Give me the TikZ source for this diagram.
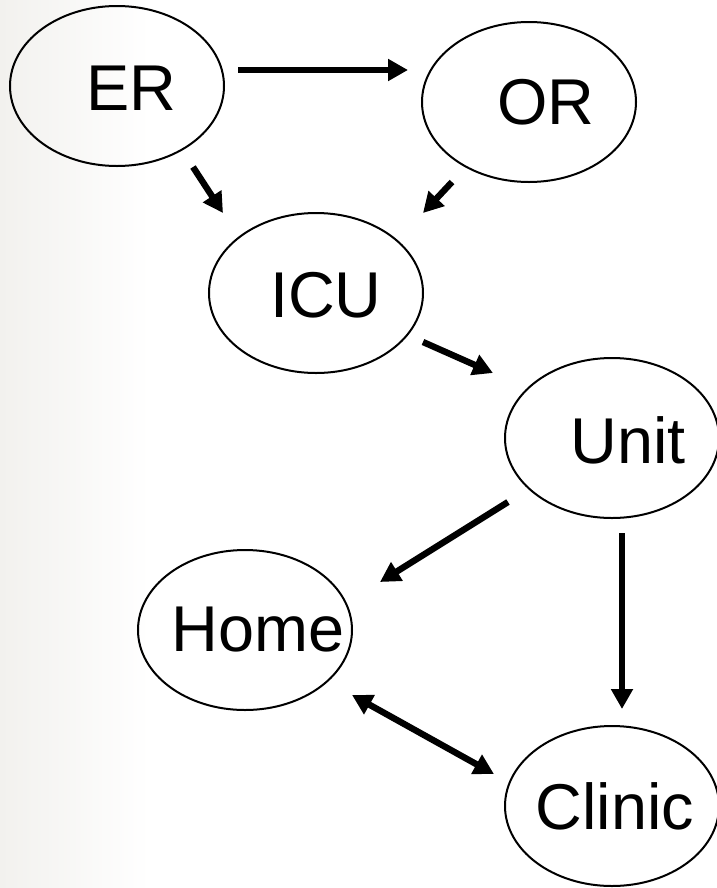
\documentclass[tikz,border=0pt]{standalone}
\usepackage{fontspec}
\setmainfont{Liberation Sans}
\usetikzlibrary{shapes.geometric,arrows.meta}
\definecolor{bgedge}{RGB}{242,241,238}
\begin{document}
\begin{tikzpicture}[x=0.5bp,y=-0.5bp,
  place/.style={ellipse,draw,line width=1bp,minimum width=107bp,minimum height=80bp,inner sep=0pt},
  tag/.style={font=\fontsize{32.5}{38}\selectfont,inner sep=0pt},
  head/.tip={Triangle[length=10bp,width=10.5bp]},
  flow/.style={line width=3.2bp,-head},
  twoway/.style={line width=3.2bp,head-head}]

% page background with a faint grey edge on the left
\useasboundingbox (0,0) rectangle (717,888);
\fill[white] (0,0) rectangle (717,888);
\shade[left color=bgedge,right color=white] (0,0) rectangle (150,888);

% locations of care
\node[place,label={[tag,xshift=7bp,yshift=-1bp]center:ER}]     (ER)     at (117,86)  {};
\node[place,label={[tag,xshift=8.5bp]center:OR}]               (OR)     at (529,102) {};
\node[place,label={[tag,xshift=5bp,yshift=-1bp]center:ICU}]    (ICU)    at (316,293) {};
\node[place,label={[tag,xshift=8bp,yshift=-1bp]center:Unit}]   (Unit)   at (612,438) {};
\node[place,label={[tag,xshift=6.5bp]center:Home}]             (Home)   at (245,630) {};
\node[place,label={[tag,xshift=1.5bp]center:Clinic}]           (Clinic) at (612,806) {};

% arrow end points, kept clear of the ellipses
\coordinate (er-out)    at (238,70);  \coordinate (or-in)     at (408,70);
\coordinate (er-down)   at (193,167); \coordinate (icu-inl)   at (223,213);
\coordinate (or-down)   at (452,182); \coordinate (icu-inr)   at (423,213);
\coordinate (icu-out)   at (423,342); \coordinate (unit-in)   at (493,373);
\coordinate (unit-left) at (508,502); \coordinate (home-in)   at (380,582);
\coordinate (unit-down) at (622,533); \coordinate (clinic-in) at (622,709);
\coordinate (home-side) at (352,695); \coordinate (clinic-side) at (494,774);

% patient flow
\draw[flow]   (er-out)    -- (or-in);
\draw[flow]   (er-down)   -- (icu-inl);
\draw[flow]   (or-down)   -- (icu-inr);
\draw[flow]   (icu-out)   -- (unit-in);
\draw[flow]   (unit-left) -- (home-in);
\draw[flow]   (unit-down) -- (clinic-in);
\draw[twoway] (home-side) -- (clinic-side);
\end{tikzpicture}
\end{document}
